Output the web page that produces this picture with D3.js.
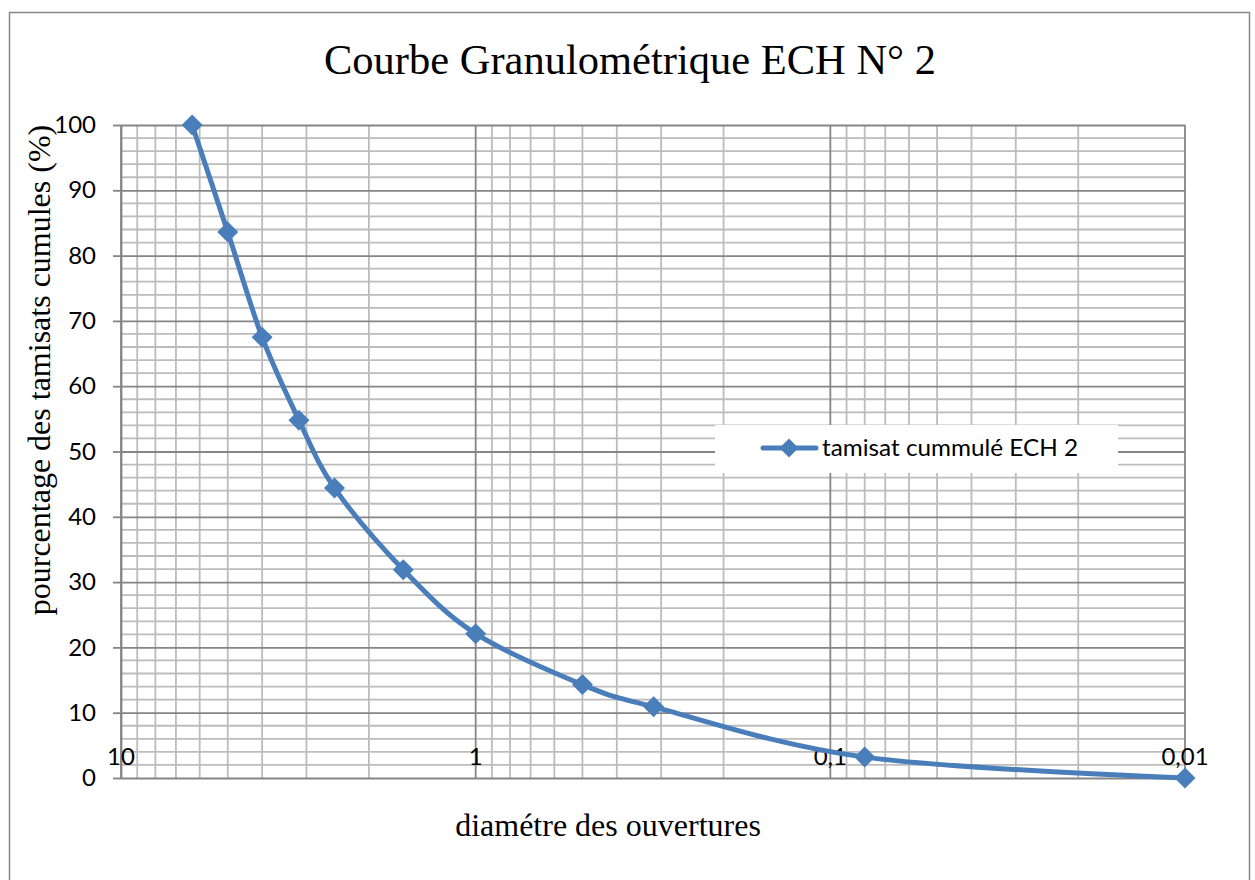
<!DOCTYPE html>
<html>
<head>
<meta charset="utf-8">
<script src="https://cdn.jsdelivr.net/npm/d3@7"></script>
<style>
  body { margin: 0; background: #fff; }
  svg text { fill: #000; }
</style>
</head>
<body>
<div id="chart"></div>
<script>
// sieve openings (mm) and cumulative passing (%)
var diametres = [6.3, 5, 4, 3.15, 2.5, 1.6, 1, 0.5, 0.315, 0.08, 0.01];
var tamisats = [100, 83.6, 67.5, 54.8, 44.4, 31.9, 22.1, 14.3, 10.9, 3.2, 0];
var xMajor = [10, 1, 0.1, 0.01];
var xLabels = ["10", "1", "0,1", "0,01"];
var yTicks = [0, 10, 20, 30, 40, 50, 60, 70, 80, 90, 100];
var serieName = "tamisat cummulé ECH 2";

var svg = d3.select("#chart").append("svg")
  .attr("width", 1255)
  .attr("height", 880),
  width = +svg.attr("width"),
  height = +svg.attr("height");

var plotLeft = 121, plotRight = 1185, plotTop = 125, plotBottom = 778;
var blue = "#4a7ebb";
var sans = "Lato, 'Open Sans', sans-serif";
var serif = "'Liberation Serif', 'Times New Roman', serif";

var x = d3.scaleLog().domain([10, 0.01]).range([plotLeft, plotRight]);
var y = d3.scaleLinear().domain([0, 100]).range([plotBottom, plotTop]);

// chart frame
svg.append("rect")
  .attr("x", 9.5).attr("y", 12.5)
  .attr("width", 1240).attr("height", 900)
  .attr("fill", "#fff")
  .attr("stroke", "#878787")
  .attr("stroke-width", 1.5);

// minor grid
var xMinor = [];
xMajor.slice(0, 3).forEach(function(dec) {
  for (var k = 2; k <= 9; k++) xMinor.push(dec / 10 * k);
});
var yMinor = d3.range(0, 101, 2).filter(function(v) { return v % 10 != 0; });

var grid = svg.append("g");
grid.selectAll(".xminor").data(xMinor).enter().append("line")
  .attr("x1", function(d) { return x(d); }).attr("x2", function(d) { return x(d); })
  .attr("y1", plotTop).attr("y2", plotBottom)
  .attr("stroke", "#bcbcbc").attr("stroke-width", 1.8);
grid.selectAll(".yminor").data(yMinor).enter().append("line")
  .attr("x1", plotLeft).attr("x2", plotRight)
  .attr("y1", function(d) { return y(d); }).attr("y2", function(d) { return y(d); })
  .attr("stroke", "#bcbcbc").attr("stroke-width", 1.8);

// major vertical grid
grid.selectAll(".xmajor").data(xMajor).enter().append("line")
  .attr("x1", function(d) { return x(d); }).attr("x2", function(d) { return x(d); })
  .attr("y1", plotTop).attr("y2", plotBottom)
  .attr("stroke", "#858585").attr("stroke-width", 1.8);

// y axis with major horizontal grid lines
var yAxis = svg.append("g")
  .attr("transform", "translate(" + plotLeft + ",0)")
  .call(d3.axisLeft(y).tickValues(yTicks).tickSize(8).tickPadding(17).tickSizeOuter(0));
yAxis.select(".domain").attr("stroke", "#858585").attr("stroke-width", 1.8);
yAxis.selectAll(".tick line").attr("stroke", "#858585").attr("stroke-width", 1.8);
yAxis.selectAll(".tick").append("line")
  .attr("x1", 0).attr("x2", plotRight - plotLeft)
  .attr("stroke", "#858585").attr("stroke-width", 1.8);
yAxis.selectAll(".tick text")
  .attr("font-family", sans)
  .attr("font-size", "24px")
  .attr("fill", "#000");

// x labels sit just above the zero line
svg.selectAll(".xlab").data(xMajor).enter().append("text")
  .attr("x", function(d) { return x(d); })
  .attr("y", 765)
  .attr("text-anchor", "middle")
  .attr("font-family", sans)
  .attr("font-size", "24px")
  .text(function(d, i) { return xLabels[i]; });

// legend box (drawn over the grid)
var leg = svg.append("g");
leg.append("rect")
  .attr("x", 715).attr("y", 425)
  .attr("width", 403).attr("height", 48)
  .attr("fill", "#fff");
leg.append("line")
  .attr("x1", 763).attr("x2", 816)
  .attr("y1", 448).attr("y2", 448)
  .attr("stroke", blue).attr("stroke-width", 5).attr("stroke-linecap", "round");
leg.append("path")
  .attr("d", "M0,-9.5L9.5,0L0,9.5L-9.5,0Z")
  .attr("transform", "translate(789,448)")
  .attr("fill", blue);
leg.append("text")
  .attr("x", 822).attr("y", 456)
  .attr("font-family", sans)
  .attr("font-size", "23px")
  .attr("textLength", 256)
  .attr("lengthAdjust", "spacingAndGlyphs")
  .text(serieName);

// curve
var pts = diametres.map(function(d, i) { return [d, tamisats[i]]; });
var line = d3.line()
  .x(function(d) { return x(d[0]); })
  .y(function(d) { return y(d[1]); })
  .curve(d3.curveCardinal.tension(0));

svg.append("path")
  .datum(pts)
  .attr("d", line)
  .attr("fill", "none")
  .attr("stroke", blue)
  .attr("stroke-width", 5)
  .attr("stroke-linejoin", "round");

svg.selectAll(".marker").data(pts).enter().append("path")
  .attr("class", "marker")
  .attr("d", "M0,-10.5L10.5,0L0,10.5L-10.5,0Z")
  .attr("transform", function(d) { return "translate(" + x(d[0]) + "," + y(d[1]) + ")"; })
  .attr("fill", blue);

// titles
svg.append("text")
  .attr("x", 630).attr("y", 74)
  .attr("text-anchor", "middle")
  .attr("font-family", serif)
  .attr("font-size", "43px")
  .attr("textLength", 612)
  .attr("lengthAdjust", "spacingAndGlyphs")
  .text("Courbe Granulométrique ECH N° 2");

svg.append("text")
  .attr("x", 608).attr("y", 836)
  .attr("text-anchor", "middle")
  .attr("font-family", serif)
  .attr("font-size", "32px")
  .text("diamétre des ouvertures");

svg.append("text")
  .attr("transform", "translate(50,370) rotate(-90)")
  .attr("text-anchor", "middle")
  .attr("font-family", serif)
  .attr("font-size", "32px")
  .text("pourcentage des tamisats cumules (%)");
</script>
</body>
</html>
